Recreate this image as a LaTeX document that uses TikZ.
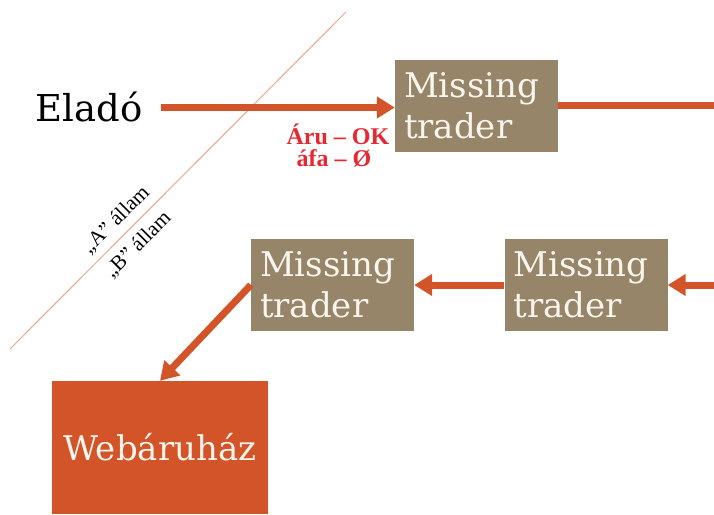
\documentclass[tikz,border=0pt]{standalone}
\usepackage{fontspec}
\setmainfont{DejaVu Serif}
\newfontfamily\timesfont{Liberation Serif}
\usetikzlibrary{arrows.meta}
\definecolor{flow}{RGB}{212,84,41}
\definecolor{trader}{RGB}{150,133,104}
\definecolor{boxtext}{RGB}{250,246,238}
\definecolor{border}{RGB}{235,165,143}
\definecolor{note}{RGB}{232,40,48}
\tikzset{
  traderbox/.style={fill=trader, text=boxtext, minimum width=163pt, minimum height=92pt,
    text width=145pt, inner xsep=9pt, inner ysep=0pt, align=left,
    font=\fontsize{34}{41}\selectfont},
  shopbox/.style={fill=flow, text=boxtext, minimum width=216pt, minimum height=133pt,
    inner sep=0pt, font=\fontsize{34}{41}\selectfont},
  flowline/.style={draw=flow, line width=7pt},
  flowarrow/.style={flowline, -{Triangle[length=18pt,width=21pt]}},
  statelabel/.style={rotate=45, font=\timesfont\fontsize{21}{24}\selectfont, inner sep=0pt},
}
\begin{document}
\begin{tikzpicture}[x=1pt,y=-1pt]
\useasboundingbox (0,0) rectangle (714,514);

% border between the two states
\coordinate (bt) at (346,12);
\coordinate (bb) at (10,349);
\draw[border, line width=1pt] (bt) -- (bb);
\node[statelabel] (stA) at (116,220) {„A” állam};
\node[statelabel] (stB) at (138,245) {„B” állam};

% seller and traders
\node[font=\fontsize{37}{44}\selectfont, inner sep=0pt] (elado) at (89,107) {Eladó};
\node[traderbox] (t1) at (476.5,105.5) {Missing\\trader};
\node[traderbox] (t2) at (332.5,285) {Missing\\trader};
\node[traderbox] (t3) at (586,285) {Missing\\trader};
\node[shopbox] (web) at (160,447.5) {Webáruház};

\coordinate (e1) at (714,105);
\coordinate (e3) at (714,285);

% flows
\draw[flowarrow] ([xshift=18pt]elado.east |- 0,107.5) -- (t1.west |- 0,107.5);
\draw[flowline] (t1.east |- e1) -- (e1);
\draw[flowarrow] (e3) -- (t3.east);
\draw[flowarrow] (t3.west) -- (t2.east);
\draw[flowarrow] (t2.west) -- (web.north);

% note under the first flow
\node[text=note, font=\timesfont\bfseries\fontsize{24}{22}\selectfont, align=center, inner sep=0pt]
  (n1) at (338,146) {Áru – OK\\\hspace*{-8pt}áfa – Ø};
\end{tikzpicture}
\end{document}
